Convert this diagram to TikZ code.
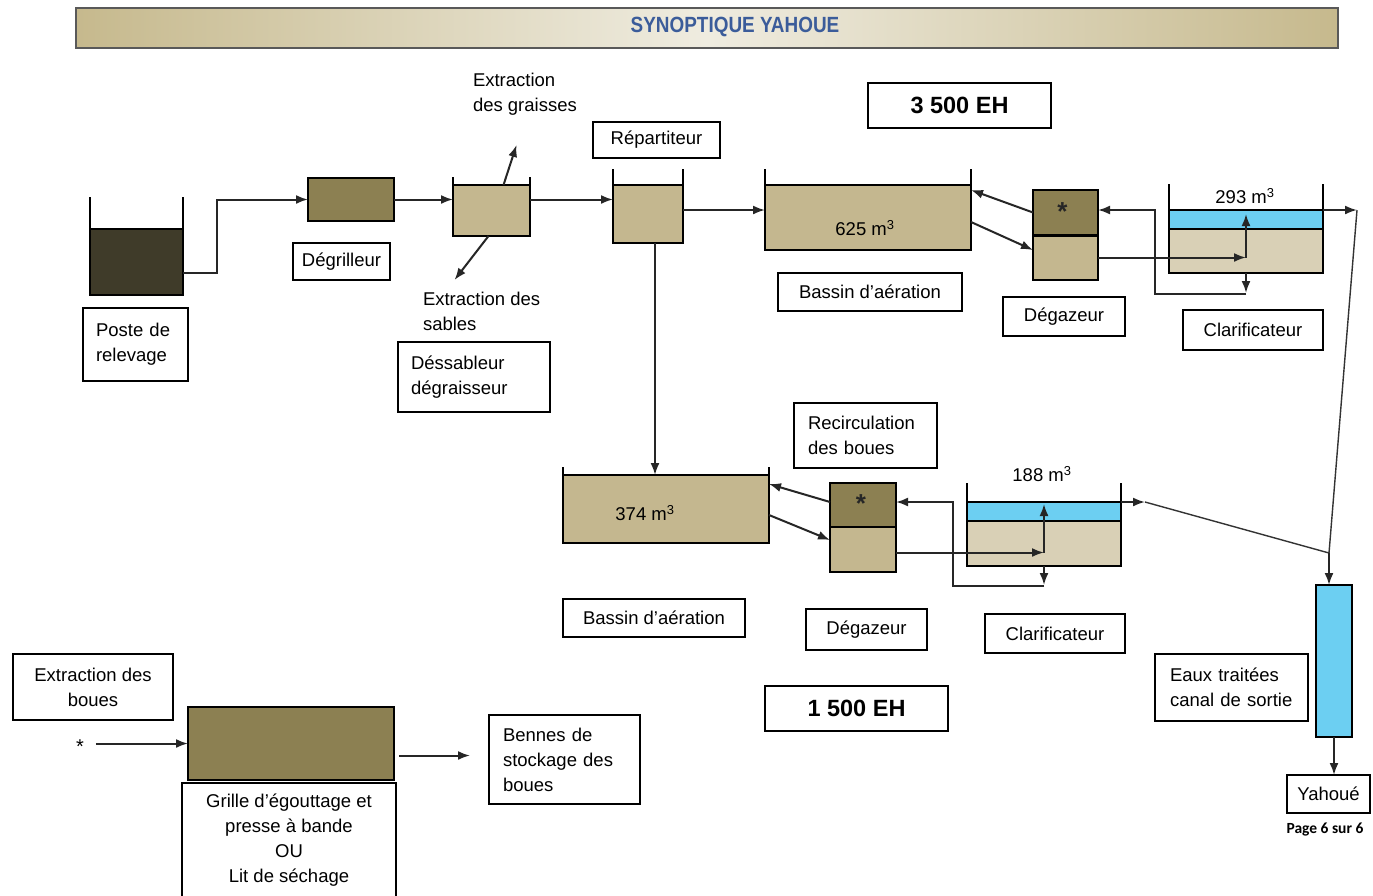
\documentclass[tikz,border=0pt]{standalone}
\usepackage{fontspec}
\setmainfont{Liberation Sans}
\newfontfamily\calibfont{Carlito}
\usetikzlibrary{arrows.meta,calc}
\definecolor{cDark}{HTML}{3F3B29}
\definecolor{cOlive}{HTML}{8C8052}
\definecolor{cTan}{HTML}{C4B78F}
\definecolor{cLtan}{HTML}{D9D0B6}
\definecolor{cWater}{HTML}{6CCFF2}
\definecolor{cTitle}{HTML}{3B5C9A}
\definecolor{cBanEdge}{HTML}{C6B98D}
\definecolor{cBanMid}{HTML}{EFECE0}
\newcommand\txtsize{\fontsize{18.5}{25}\selectfont}
\begin{document}
\begin{tikzpicture}[x=1pt,y=-1pt,line width=1.5pt,
  box/.style={draw,line width=1.5pt,inner sep=0pt,outer sep=0pt,anchor=north west},
  lbl/.style={draw,line width=1.3pt,inner sep=0pt,outer sep=0pt,anchor=north west,font=\txtsize,align=center},
  lbll/.style={lbl,align=left},
  plain/.style={inner sep=0pt,outer sep=0pt,font=\txtsize,align=left},
  flowarrow/.style={draw=black!85,line width=2pt,-{Latex[length=12pt,width=9pt]}},
  slimline/.style={draw=black!80,line width=1.4pt},
  wall/.style={line width=1.5pt}]
\useasboundingbox (0,0) rectangle (1373,895);
\fill[white] (0,0) rectangle (1373,895);

% banner
\node[box,draw=black!65,line width=1.2pt,left color=cBanEdge,right color=cBanEdge,middle color=cBanMid,minimum width=1262pt,minimum height=40pt] (banner) at (76,8) {};
\node[font=\fontsize{22}{22}\selectfont\bfseries,text=cTitle] (title) at (735,27) {\scalebox{0.86}[1]{SYNOPTIQUE YAHOUE}};

% ---------- top line ----------
\node[box,fill=cDark,minimum width=93pt,minimum height=66pt] (poste) at (90,229) {};
\draw[wall] (poste.north west) -- +(0,-32) (poste.north east) -- +(0,-32);

\node[box,fill=cOlive,minimum width=86pt,minimum height=43pt] (degr) at (308,178) {};

\node[box,fill=cTan,minimum width=77pt,minimum height=51pt] (dess) at (453,185) {};
\draw[wall] (dess.north west) -- +(0,-8) (dess.north east) -- +(0,-8);

\node[box,fill=cTan,minimum width=70pt,minimum height=58pt] (rep) at (613,185) {};
\draw[wall] (rep.north west) -- +(0,-16) (rep.north east) -- +(0,-16);

\node[box,fill=cTan,minimum width=206pt,minimum height=65pt] (bas1) at (765,185) {};
\draw[wall] (bas1.north west) -- +(0,-16) (bas1.north east) -- +(0,-16);
\node[font=\txtsize] (v1) at (865,228) {625 m\textsuperscript{3}};

\node[box,fill=cOlive,minimum width=65pt,minimum height=45pt] (deg1u) at (1033,190) {};
\node[box,fill=cTan,minimum width=65pt,minimum height=45pt] (deg1l) at (1033,235) {};
\draw[line width=3pt] (deg1l.north west) -- (deg1l.north east);
\node[font=\fontsize{26}{26}\selectfont\bfseries,text=black!85] (star1) at ($(deg1u.center)+(-3,-1)$) {*};

\node[box,fill=cWater,minimum width=154pt,minimum height=19pt] (c1b) at (1169,210) {};
\node[box,fill=cLtan,minimum width=154pt,minimum height=44pt] (c1t) at (1169,229) {};
\draw[wall] (c1b.north west) -- +(0,-26) (c1b.north east) -- +(0,-26);
\node[font=\txtsize] (v2) at (1245,196) {293 m\textsuperscript{3}};

% top connectors
\coordinate (pout) at (217,273);
\draw[flowarrow] (poste.east |- pout) -- (pout) |- (degr.west);
\draw[flowarrow] (degr.east) -- (degr.east -| dess.west);
\draw[flowarrow] (dess.east |- degr.east) -- (degr.east -| rep.west);
\draw[flowarrow] ($(dess.north)+(12,0)$) -- ($(dess.north)+(25,-40)$);
\draw[flowarrow] ($(dess.south)+(-3,0)$) -- ($(dess.south)+(-37,44)$);
\draw[flowarrow] ($(rep.north east)+(0,25)$) -- ($(bas1.north west)+(0,25)$);
\draw[flowarrow] (deg1u.west) -- ($(bas1.north east)+(0,5)$);
\draw[flowarrow] ($(bas1.north east)+(0,37)$) -- ($(deg1l.north west)+(0,15)$);
\coordinate (c1j) at (deg1l.east -| c1b.center);
\draw[flowarrow] (deg1l.east) -- (c1j);
\draw[flowarrow] (c1j) -- ($(c1b.north)+(0,4)$);
\draw[flowarrow] (c1t.south) -- ++(0,20);
\draw[flowarrow] ($(c1t.south)+(0,21)$) -| ($(c1b.north west)+(-14,0)$) -- (c1b.north west -| deg1u.east);
\coordinate (out1) at ($(c1b.north east)+(34,0)$);
\draw[flowarrow] (c1b.north east) -- (out1);
\coordinate (junc) at (1329,553);
\draw[slimline] (out1) -- (junc);

% ---------- bottom line ----------
\node[box,fill=cTan,minimum width=206pt,minimum height=68pt] (bas2) at (563,475) {};
\draw[wall] (bas2.north west) -- +(0,-8) (bas2.north east) -- +(0,-8);
\node[font=\txtsize] (v3) at (645,513) {374 m\textsuperscript{3}};

\node[box,fill=cOlive,minimum width=66pt,minimum height=44pt] (deg2u) at (830,483) {};
\node[box,fill=cTan,minimum width=66pt,minimum height=45pt] (deg2l) at (830,527) {};
\node[font=\fontsize{26}{26}\selectfont\bfseries,text=black!85] (star2) at ($(deg2u.center)+(-2,-1)$) {*};

\node[box,fill=cWater,minimum width=154pt,minimum height=19pt] (c2b) at (967,502) {};
\node[box,fill=cLtan,minimum width=154pt,minimum height=45pt] (c2t) at (967,521) {};
\draw[wall] (c2b.north west) -- +(0,-19) (c2b.north east) -- +(0,-19);
\node[font=\txtsize] (v4) at (1042,474) {188 m\textsuperscript{3}};

\coordinate (rdown) at ($(rep.south)+(7,0)$);
\draw[flowarrow] (rdown) -- (rdown |- bas2.north);
\draw[flowarrow] ($(deg2u.north west)+(0,19)$) -- ($(bas2.north east)+(0,9)$);
\draw[flowarrow] ($(bas2.north east)+(0,40)$) -- ($(deg2l.north west)+(0,13)$);
\coordinate (d2out) at ($(deg2l.east)+(0,3)$);
\coordinate (c2j) at (d2out -| c2b.center);
\draw[flowarrow] (d2out) -- (c2j);
\draw[flowarrow] (c2j) -- ($(c2b.north)+(0,2)$);
\draw[flowarrow] (c2t.south) -- ++(0,19);
\draw[flowarrow] ($(c2t.south)+(0,20)$) -| ($(c2b.north west)+(-14,0)$) -- (c2b.north west -| deg2u.east);
\coordinate (out2) at ($(c2b.north east)+(24,0)$);
\draw[flowarrow] (c2b.north east) -- (out2);
\draw[slimline] (out2) -- (junc);

% canal
\node[box,fill=cWater,minimum width=36pt,minimum height=152pt] (canal) at (1316,585) {};
\draw[flowarrow] (junc) -- (junc |- canal.north);
\node[lbl,minimum width=83pt,minimum height=38pt] (yah) at (1287,775) {Yahoué};
\draw[flowarrow] (canal.south) -- (canal.south |- yah.north);
\node[font=\calibfont\fontsize{15.5}{18}\selectfont\bfseries] (page) at (1325,830) {Page 6 sur 6};

% ---------- sludge line ----------
\node[box,fill=cOlive,minimum width=206pt,minimum height=73pt] (grille) at (188,707) {};
\node[font=\fontsize{20}{20}\selectfont] (star3) at (80,747) {*};
\draw[flowarrow] ($(star3.east |- grille.west)+(8,0)$) -- (grille.west);
\node[lbll,text width=123pt,inner xsep=14pt,minimum height=89pt] (bennes) at (489,715) {Bennes de\\stockage des\\boues};
\coordinate (gout) at ($(grille.east)+(5,12)$);
\draw[flowarrow] (gout) -- (gout -| 470,0);
\draw[line width=1.3pt] (182,900) |- (396,783) -- (396,900);
\node[plain,align=center,anchor=north] (grilletxt) at (289,794) {Grille d’égouttage et\\presse à bande\\OU\\Lit de séchage};

% ---------- labels ----------
\node[lbll,text width=79pt,inner xsep=13pt,minimum height=73pt] (lposte) at (83,308) {Poste de\\relevage};
\node[lbl,minimum width=97pt,minimum height=37pt] (ldegr) at (293,243) {Dégrilleur};
\node[plain,anchor=west] (lgr) at (473,94) {Extraction\\des graisses};
\node[plain,anchor=west] (lsab) at (423,311) {Extraction des\\sables};
\node[lbll,text width=126pt,inner xsep=13pt,minimum height=70pt] (ldess) at (398,342) {Déssableur\\dégraisseur};
\node[lbl,minimum width=127pt,minimum height=36pt] (lrep) at (593,122) {Répartiteur};
\node[lbl,line width=2.5pt,minimum width=183pt,minimum height=45pt,font=\fontsize{23.5}{24}\selectfont\bfseries] (eh1) at (868,83) {3 500 EH};
\node[lbl,minimum width=184pt,minimum height=38pt] (lbas1) at (778,273) {Bassin d'aération};
\node[lbl,minimum width=122pt,minimum height=39pt] (ldeg1) at (1003,297) {Dégazeur};
\node[lbl,minimum width=140pt,minimum height=40pt] (lcl1) at (1183,310) {Clarificateur};
\node[lbll,text width=115pt,inner xsep=14pt,minimum height=65pt] (lrec) at (794,403) {Recirculation\\des boues};
\node[lbl,minimum width=182pt,minimum height=38pt] (lbas2) at (563,599) {Bassin d'aération};
\node[lbl,minimum width=121pt,minimum height=41pt] (ldeg2) at (806,609) {Dégazeur};
\node[lbl,minimum width=140pt,minimum height=39pt] (lcl2) at (985,614) {Clarificateur};
\node[lbl,line width=2.5pt,minimum width=183pt,minimum height=45pt,font=\fontsize{23.5}{24}\selectfont\bfseries] (eh2) at (765,686) {1 500 EH};
\node[lbll,text width=123pt,inner xsep=15pt,minimum height=67pt] (leaux) at (1155,654) {Eaux traitées\\canal de sortie};
\node[lbl,minimum width=160pt,minimum height=66pt] (lext) at (13,654) {Extraction des\\boues};
\end{tikzpicture}
\end{document}
